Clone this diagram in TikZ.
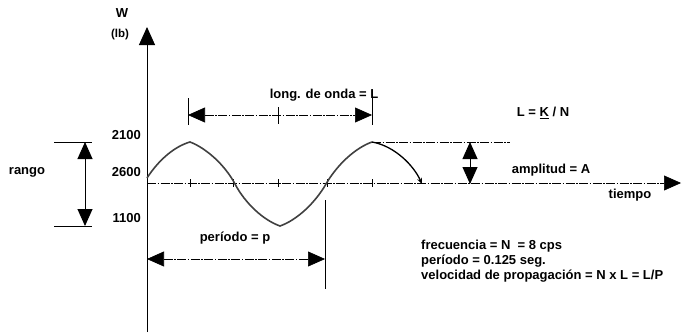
\documentclass[tikz,border=0pt]{standalone}
\usepackage{fontspec}
\setmainfont{Liberation Sans}
\usetikzlibrary{arrows.meta}
\tikzset{lab/.style={font=\fontsize{13}{15}\selectfont\bfseries,inner sep=0pt},
  small/.style={lab,font=\fontsize{11.5}{12}\selectfont\bfseries},
  axline/.style={line width=0.9pt},
  dimline/.style={line width=0.6pt,dash pattern=on 9pt off 1.5pt on 1.5pt off 1.5pt},
  onehead/.style={-{Triangle[length=17pt,width=15pt]}},
  twoheads/.style={{Triangle[length=17pt,width=15pt]}-{Triangle[length=17pt,width=15pt]}},
  axtick/.style={line width=0.9pt},
  wavecurve/.style={line width=1.6pt,black!75}}

\begin{document}
\begin{tikzpicture}[x=1pt,y=-1pt]
\useasboundingbox (0,0) rectangle (682,332);
% axes
\coordinate (origin) at (147,183);
\coordinate (ytop) at (147,27);
\coordinate (ybot) at (147,332);
\coordinate (xend) at (681,183);
\draw[axline,-{Triangle[length=18pt,width=16pt]}] (ybot) -- (ytop);
\draw[dimline,onehead] (origin) -- (xend);
\node[lab] (w) at (122,13) {W};
\node[small] (lb) at (120,35) {(lb)};
\node[lab] (tiempo) at (630,195) {tiempo};
% values
\node[lab,anchor=east] (v2100) at (141,135) {2100};
\node[lab,anchor=east] (v2600) at (141,172) {2600};
\node[lab,anchor=east] (v1100) at (141,218) {1100};
% ticks on time axis
\foreach \x in {190,233,278,327,372}
  \draw[axtick] (\x,179) -- (\x,187);
% wave
\coordinate (wstart) at (147,178);
\coordinate (peakA) at (190,142);
\coordinate (crossA) at (235,184);
\coordinate (trough) at (280,226);
\coordinate (crossB) at (326,184);
\coordinate (peakB) at (372,142);
\coordinate (fallend) at (422,184);
\draw[wavecurve] (wstart) .. controls (160,158) and (176,146) .. (peakA)
  .. controls (206,148) and (225,165) .. (crossA)
  .. controls (245,203) and (263,220) .. (trough)
  .. controls (297,220) and (315,203) .. (crossB)
  .. controls (337,165) and (355,148) .. (peakB);
\draw[line width=1.3pt,-{Stealth[length=6pt,width=5pt]}] (peakB) .. controls (395,146) and (414,166) .. (fallend);
% rango
\coordinate (rtop) at (85,142);
\coordinate (rbot) at (85,226);
\draw[axline] (54,142) -- (92,142);
\draw[axline] (54,226) -- (92,226);
\draw[axline,twoheads] (rtop) -- (rbot);
\node[lab] (rango) at (27,172) {rango};
% longitud de onda
\coordinate (wlleft) at (188,115);
\coordinate (wlright) at (372,115);
\draw[axtick] (188,98) -- (188,125);
\draw[axtick] (372,98) -- (372,125);
\draw[axtick] (278,107) -- (278,124);
\draw[dimline,twoheads] (wlleft) -- (wlright);
\node[lab] (wl) at (324,95) {long. de onda = L};
\node[lab] (lkn) at (543,113) {L = \underline{K} / N};
% amplitud
\coordinate (amptop) at (470,142);
\coordinate (ampbot) at (470,184);
\draw[dimline] (peakB) -- (510,142);
\draw[axline,twoheads] (amptop) -- (ampbot);
\node[lab] (amp) at (551,170) {amplitud = A};
% periodo
\coordinate (pleft) at (147,259);
\coordinate (pright) at (325,259);
\draw[axline] (325,200) -- (325,289);
\draw[dimline,twoheads] (pleft) -- (pright);
\node[lab] (per) at (235,238) {período = p};
% datos
\node[lab,align=left,anchor=west] (datos) at (421,261)
  {frecuencia = N \ = 8 cps\\período = 0.125 seg.\\velocidad de propagación = N x L = L/P};
\end{tikzpicture}
\end{document}
